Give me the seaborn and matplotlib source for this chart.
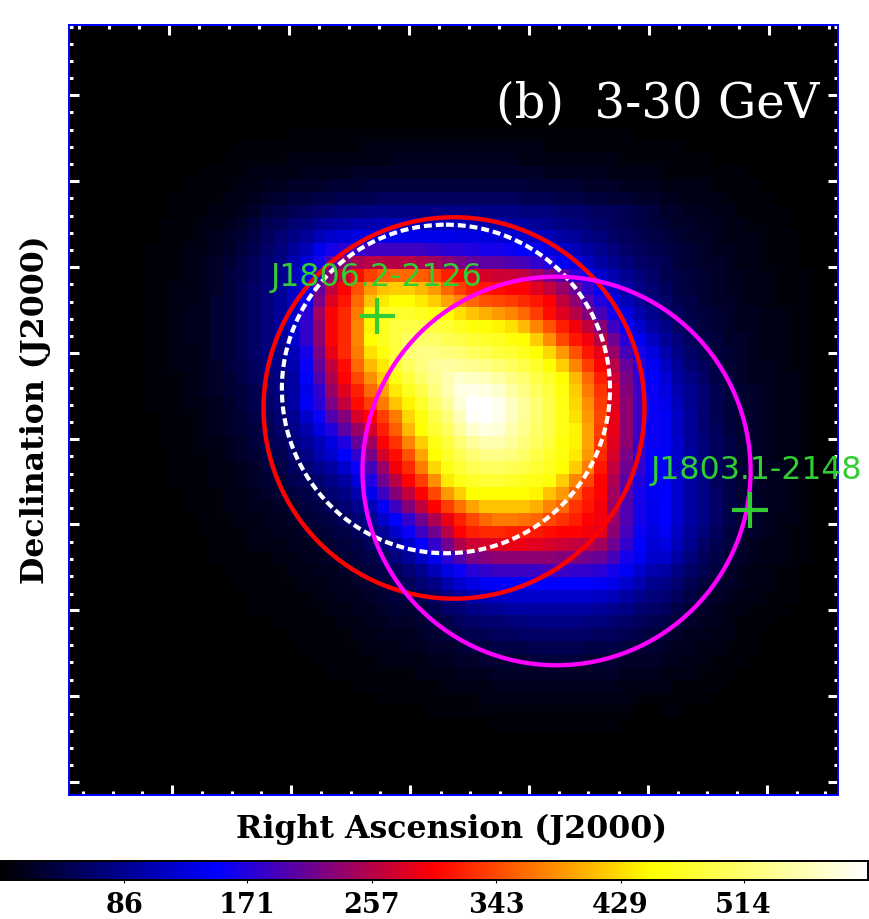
#!/usr/bin/env python3
# Fermi count map, 3-30 GeV, with source circles and the two 4FGL crosses

import numpy as np
import seaborn as sns
import matplotlib.pyplot as plt
from matplotlib.colors import LinearSegmentedColormap
from matplotlib.patches import Circle

# sky map, rows 8-54 of the 60x60 grid, in percent of the colour scale
# cols 6-14
halo_left = [
    [0,0,0,0,0,0,0,0,0],
    [0,0,0,0,0,0,0,1,1],
    [0,0,0,0,0,0,1,1,1],
    [0,0,0,0,1,1,1,1,2],
    [0,0,0,1,1,1,1,2,2],
    [0,0,1,1,1,1,2,2,3],
    [0,0,1,1,1,2,2,3,4],
    [0,1,1,1,2,2,3,4,6],
    [0,1,1,1,2,3,4,5,7],
    [1,1,1,2,2,3,4,6,8],
    [1,1,1,2,3,4,5,7,9],
    [1,1,1,2,3,4,6,7,9],
    [1,1,2,2,3,4,6,8,10],
    [1,1,2,2,3,5,6,8,10],
    [1,1,2,3,3,5,6,8,10],
    [1,1,2,3,3,5,6,8,10],
    [1,1,2,3,3,5,6,8,10],
    [1,1,2,2,3,5,6,8,10],
    [1,1,2,2,3,4,6,7,9],
    [1,1,1,2,3,4,5,7,9],
    [1,1,1,2,3,4,5,6,8],
    [1,1,1,2,2,3,4,6,8],
    [0,1,1,1,2,3,4,5,7],
    [0,1,1,1,2,3,4,5,6],
    [0,1,1,1,2,2,3,4,6],
    [0,0,1,1,1,2,3,4,5],
    [0,0,1,1,1,2,2,3,4],
    [0,0,1,1,1,2,2,3,4],
    [0,0,0,1,1,1,2,2,3],
    [0,0,0,1,1,1,2,2,3],
    [0,0,0,0,1,1,1,2,2],
    [0,0,0,0,1,1,1,1,2],
    [0,0,0,0,0,1,1,1,2],
    [0,0,0,0,0,1,1,1,1],
    [0,0,0,0,0,0,1,1,1],
    [0,0,0,0,0,0,0,1,1],
    [0,0,0,0,0,0,0,0,1],
    [0,0,0,0,0,0,0,0,1],
    [0,0,0,0,0,0,0,0,0],
    [0,0,0,0,0,0,0,0,0],
    [0,0,0,0,0,0,0,0,0],
    [0,0,0,0,0,0,0,0,0],
    [0,0,0,0,0,0,0,0,0],
    [0,0,0,0,0,0,0,0,0],
    [0,0,0,0,0,0,0,0,0],
    [0,0,0,0,0,0,0,0,0],
    [0,0,0,0,0,0,0,0,0],
]

# cols 15-45
core = [
    [0,0,1,1,1,1,1,1,1,1,1,1,1,1,1,1,1,1,1,1,1,1,1,1,1,1,1,1,1,0,0],
    [1,1,1,1,1,1,1,1,2,2,2,2,2,2,2,2,2,2,2,2,2,2,1,1,1,1,1,1,1,1,1],
    [1,1,2,2,2,2,2,2,2,2,3,3,3,3,3,3,3,3,3,3,2,2,2,2,2,2,2,2,1,1,1],
    [2,2,2,3,3,3,3,4,4,4,4,4,4,4,4,4,4,4,4,4,4,4,3,3,3,3,3,2,2,2,2],
    [3,3,4,4,4,5,5,5,6,6,6,6,6,6,6,6,6,6,6,6,6,5,5,5,5,4,4,4,3,3,3],
    [4,5,6,6,7,7,8,8,8,9,9,9,9,9,9,9,9,9,9,9,8,8,8,7,7,6,6,5,5,4,4],
    [6,7,8,9,10,11,12,12,13,13,13,13,13,13,13,13,13,13,13,13,12,12,12,11,11,10,9,9,8,7,6],
    [8,9,11,12,14,15,16,17,17,18,18,18,18,18,18,18,17,17,17,16,16,15,14,13,12,11,10,9,8,7,6],
    [9,11,13,15,18,20,21,22,22,23,23,23,23,23,23,22,22,22,21,21,20,19,18,16,15,13,12,10,9,8,7],
    [10,12,15,18,23,27,29,30,31,31,31,31,31,30,29,29,28,27,27,26,25,24,22,20,18,16,14,12,10,9,8],
    [11,13,17,21,27,33,38,42,43,43,43,43,42,41,39,37,35,34,34,33,32,30,28,25,22,19,16,14,12,10,9],
    [11,14,18,24,31,38,45,51,56,59,60,60,59,57,53,50,47,46,45,45,44,41,37,34,29,25,20,17,14,12,10],
    [12,15,19,26,35,44,50,58,65,69,70,70,68,65,60,56,53,52,51,50,50,47,44,40,35,30,25,20,16,13,11],
    [12,15,19,27,37,47,52,60,69,73,75,75,73,70,66,63,60,58,57,56,54,52,50,44,39,33,28,23,18,15,12],
    [12,15,20,29,41,50,54,62,74,78,79,79,78,76,75,72,69,67,65,63,60,56,51,47,43,38,32,27,22,17,14],
    [12,15,20,30,39,50,54,63,74,78,81,82,82,81,80,78,76,75,74,72,68,63,58,53,49,44,38,31,25,20,16],
    [12,15,20,30,39,50,54,63,75,78,81,84,85,85,83,82,80,79,78,76,75,70,64,57,52,49,43,36,29,24,19],
    [12,14,18,27,37,48,54,62,72,76,81,86,88,88,87,86,84,83,81,80,78,75,71,65,58,52,48,40,32,27,22],
    [12,14,17,26,35,44,51,60,68,73,80,84,87,90,91,90,89,88,86,84,82,79,75,70,63,56,50,43,35,29,24],
    [11,13,16,25,33,42,50,57,64,70,76,81,85,89,92,95,94,93,91,88,86,82,79,75,68,60,53,45,37,30,25],
    [11,13,16,23,30,40,47,53,60,66,73,78,82,87,92,97,98,97,95,91,88,84,81,76,70,62,55,47,38,31,26],
    [10,12,16,24,29,37,44,51,56,62,69,74,79,85,90,96,100,100,98,94,90,86,82,77,71,64,56,47,39,31,26],
    [9,11,14,20,26,33,38,46,50,56,62,71,76,82,87,93,99,100,98,94,90,86,82,77,72,65,57,48,39,31,26],
    [8,10,13,17,22,28,34,40,46,53,59,68,75,80,84,90,95,97,96,92,89,85,82,77,74,66,56,48,39,31,26],
    [8,9,12,15,18,22,28,35,41,50,55,63,70,77,81,86,90,92,92,90,87,84,81,76,74,66,55,47,39,31,26],
    [7,8,10,13,17,20,25,30,37,46,51,58,66,75,79,83,86,88,88,87,85,82,79,76,73,65,54,46,37,30,25],
    [6,7,9,11,14,16,20,26,32,40,49,54,62,71,77,80,83,84,84,83,82,80,78,75,70,62,52,44,36,30,25],
    [5,6,8,9,11,13,16,21,28,36,43,50,56,64,73,77,79,80,80,79,78,77,76,70,63,57,50,42,34,28,24],
    [4,5,6,7,9,11,13,17,23,31,38,44,50,57,65,70,75,75,75,75,75,74,69,65,59,53,50,41,33,27,24],
    [3,4,5,6,7,9,11,14,18,24,31,38,44,50,56,61,66,69,69,69,69,67,63,60,55,52,49,40,33,27,23],
    [3,3,4,5,6,7,9,11,14,20,25,30,36,42,48,53,57,60,62,62,61,60,57,55,53,50,49,40,33,27,23],
    [2,3,3,4,5,6,7,9,11,15,20,26,31,36,43,50,53,54,54,53,53,52,51,50,50,49,47,39,32,26,22],
    [2,2,3,3,4,5,6,7,9,12,15,20,25,30,36,42,45,46,47,48,48,47,46,45,44,43,41,36,30,25,21],
    [1,2,2,3,3,4,5,6,7,9,12,15,19,23,29,33,37,38,39,39,39,39,39,38,37,36,35,32,27,24,20],
    [1,1,2,2,3,3,4,5,6,7,9,11,14,18,22,26,29,30,31,31,31,31,32,31,30,30,29,27,24,20,17],
    [1,1,1,2,2,3,3,4,5,6,7,9,11,13,17,20,22,24,25,25,25,25,25,25,25,25,24,23,20,17,14],
    [1,1,1,1,2,2,3,3,4,5,6,7,8,10,13,15,17,18,19,20,20,20,20,20,20,20,19,18,16,14,12],
    [1,1,1,1,1,2,2,3,3,4,5,5,6,8,10,11,13,14,15,16,16,16,16,16,16,16,15,14,13,11,10],
    [0,1,1,1,1,1,2,2,3,3,4,4,5,6,7,9,10,11,11,12,12,13,13,13,13,12,12,11,10,9,8],
    [0,0,1,1,1,1,1,2,2,3,3,3,4,5,6,7,8,8,9,9,10,10,10,10,10,10,9,9,8,7,6],
    [0,0,0,1,1,1,1,1,2,2,2,3,3,4,4,5,6,6,7,7,7,8,8,8,8,7,7,7,6,5,5],
    [0,0,0,0,1,1,1,1,1,2,2,2,2,3,3,4,4,5,5,5,5,6,6,6,6,5,5,5,4,4,4],
    [0,0,0,0,0,1,1,1,1,1,1,1,2,2,2,3,3,3,4,4,4,4,4,4,4,4,4,4,3,3,3],
    [0,0,0,0,0,0,0,1,1,1,1,1,1,1,2,2,2,2,3,3,3,3,3,3,3,3,3,3,2,2,2],
    [0,0,0,0,0,0,0,0,0,1,1,1,1,1,1,1,1,2,2,2,2,2,2,2,2,2,2,2,2,1,1],
    [0,0,0,0,0,0,0,0,0,0,0,0,0,1,1,1,1,1,1,1,1,1,1,1,1,1,1,1,1,0,0],
    [0,0,0,0,0,0,0,0,0,0,0,0,0,0,0,0,0,0,1,1,1,1,1,1,1,1,1,1,0,0,0],
]

# cols 46-57
halo_right = [
    [0,0,0,0,0,0,0,0,0,0,0,0],
    [1,1,0,0,0,0,0,0,0,0,0,0],
    [1,1,1,1,0,0,0,0,0,0,0,0],
    [1,1,1,1,1,1,1,0,0,0,0,0],
    [2,2,2,2,1,1,1,1,0,0,0,0],
    [3,3,2,2,2,1,1,1,1,0,0,0],
    [4,4,3,3,2,2,1,1,1,1,0,0],
    [5,4,4,3,3,2,2,1,1,1,0,0],
    [6,5,4,4,3,2,2,2,1,1,1,0],
    [7,6,5,4,3,3,2,2,1,1,1,0],
    [8,6,5,4,4,3,2,2,1,1,1,0],
    [8,7,6,5,4,3,3,2,2,1,1,1],
    [9,7,6,5,4,3,3,2,2,1,1,1],
    [10,8,7,5,4,4,3,2,2,1,1,1],
    [11,9,7,6,5,4,3,3,2,2,1,1],
    [13,10,8,6,5,4,3,3,2,2,1,1],
    [15,12,9,7,6,4,4,3,2,2,1,1],
    [17,13,10,8,6,5,4,3,2,2,1,1],
    [19,15,11,9,7,5,4,3,3,2,1,1],
    [21,16,13,10,7,6,4,3,3,2,2,1],
    [22,17,14,11,8,6,5,4,3,2,2,1],
    [23,18,14,11,8,6,5,4,3,2,2,1],
    [24,19,15,11,8,6,5,4,3,2,2,1],
    [24,19,15,11,9,6,5,4,3,2,2,1],
    [24,20,15,12,9,7,5,4,3,2,2,1],
    [24,20,16,12,9,7,5,4,3,2,2,1],
    [24,20,16,12,9,7,5,4,3,3,2,1],
    [25,20,16,13,9,7,5,4,3,3,2,1],
    [25,20,16,13,10,7,5,4,3,3,2,1],
    [25,20,16,13,10,7,6,4,3,3,2,1],
    [25,20,16,13,10,7,5,4,3,2,2,1],
    [24,19,15,12,9,6,5,4,3,2,1,1],
    [22,18,14,10,8,6,4,3,2,2,1,1],
    [20,16,12,9,7,5,4,3,2,2,1,1],
    [16,13,10,8,6,4,3,2,2,1,1,0],
    [13,11,8,6,5,4,3,2,2,1,1,0],
    [11,9,7,5,4,3,2,2,1,1,1,0],
    [9,7,5,4,3,2,2,1,1,1,0,0],
    [7,6,4,3,3,2,1,1,1,0,0,0],
    [5,4,3,3,2,2,1,1,0,0,0,0],
    [4,3,3,2,2,1,1,1,0,0,0,0],
    [3,3,2,2,1,1,1,0,0,0,0,0],
    [2,2,2,1,1,1,0,0,0,0,0,0],
    [2,1,1,1,1,0,0,0,0,0,0,0],
    [1,1,1,1,0,0,0,0,0,0,0,0],
    [1,1,0,0,0,0,0,0,0,0,0,0],
    [0,0,0,0,0,0,0,0,0,0,0,0],
]

source_names = ["J1806.2-2126", "J1803.1-2148"]
source_x = [24.03, 53.13]
source_y = [22.68, 37.80]

# cx, cy, r in map cells
circle_red = [30.04, 29.84, 14.86]
circle_white = [29.41, 28.36, 12.80]
circle_magenta = [38.04, 34.75, 15.14]

cbar_ticks = [86, 171, 257, 343, 429, 514]

ra_major = [8.04, 17.36, 26.64, 35.90, 45.20, 54.45]
ra_minor = [1.09, 3.43, 5.70, 10.38, 12.70, 15.00, 19.70, 22.00, 24.30, 29.00, 31.30, 33.60,
            38.20, 40.50, 42.90, 47.50, 49.80, 52.10, 56.80, 59.00]
ra_top_major = [7.84, 17.19, 26.55, 35.90, 45.26, 54.62]
ra_top_minor = [0.78, 3.12, 5.48, 10.18, 12.52, 14.85, 19.53, 21.87, 24.21, 28.89, 31.23, 33.57,
                38.24, 40.58, 42.92, 47.60, 49.94, 52.28, 56.96, 59.30]
dec_major = [5.48, 12.18, 18.88, 25.56, 32.25, 38.92, 45.60, 52.30, 59.00]
dec_minor = [0.16, 1.50, 2.80, 4.15, 6.80, 8.15, 9.50, 10.85, 13.50, 14.85, 16.20, 17.55,
             20.20, 21.55, 22.90, 24.25, 26.90, 28.25, 29.60, 30.95, 33.60, 34.95, 36.25, 37.60,
             40.25, 41.60, 42.95, 44.30, 46.95, 48.30, 49.65, 51.00, 53.65, 55.00, 56.30, 57.65]

plt.rcParams['font.family'] = 'DejaVu Serif'

counts = np.zeros((60, 60))
counts[8:55, 6:58] = np.hstack([np.array(halo_left), np.array(core), np.array(halo_right)]) * 6.0

fire = LinearSegmentedColormap.from_list("fire", ["#000000", "#0000ff", "#ff0000", "#ffff00", "#ffffff"], N=512)

W, H = 869, 919
fig = plt.figure(figsize=(W / 100, H / 100), dpi=100)
ax = fig.add_axes([69 / W, 1 - 795 / H, 769 / W, 770 / H])
cax = fig.add_axes([0, 1 - 880 / H, 868 / W, 19 / H])

sns.heatmap(counts, ax=ax, cmap=fire, vmin=0, vmax=600, square=False, linewidths=0,
            xticklabels=False, yticklabels=False, cbar_ax=cax,
            cbar_kws={"orientation": "horizontal"})

for spine in ax.spines.values():
    spine.set_visible(True)
    spine.set_color("#0000ff")
    spine.set_linewidth(1.4)

ax.set_xticks(ra_major)
ax.set_xticks(ra_minor, minor=True)
ax.set_yticks(dec_major)
ax.set_yticks(dec_minor, minor=True)
ax.tick_params(which="major", direction="in", length=7.5, width=2.2, color="white",
               right=True, labelbottom=False, labelleft=False)
ax.tick_params(which="minor", direction="in", length=3.2, width=2.2, color="white", right=True)

# the top edge runs slightly off the bottom one, so it gets its own ticks
top = ax.secondary_xaxis("top")
top.set_zorder(5)
top.set_xticks(ra_top_major)
top.set_xticks(ra_top_minor, minor=True)
top.tick_params(which="major", direction="in", length=7.5, width=2.2, color="white", labeltop=False)
top.tick_params(which="minor", direction="in", length=3.2, width=2.2, color="white")
top.spines["top"].set_color("#0000ff")
top.spines["top"].set_linewidth(1.4)

ax.add_patch(Circle(circle_red[:2], circle_red[2], fill=False, ec="#ff0000", lw=3.2))
ax.add_patch(Circle(circle_white[:2], circle_white[2], fill=False, ec="white", lw=3.0,
                    ls=(0, (1.9, 0.95))))
ax.add_patch(Circle(circle_magenta[:2], circle_magenta[2], fill=False, ec="#ff00ff", lw=3.1))

ax.plot(source_x, source_y, ls="none", marker="+", ms=26, mew=3, color="#32cd32")
ax.text(source_x[0], source_y[0] - 3.0, source_names[0], color="#32cd32", fontsize=22.8,
        family="DejaVu Sans", ha="center", va="center")
ax.text(source_x[1] + 0.5, source_y[1] - 3.1, source_names[1], color="#32cd32", fontsize=22.8,
        family="DejaVu Sans", ha="center", va="center")

ax.text((819 - 69) / 769, 1 - (117 - 25) / 770, "(b)  3-30 GeV", color="white",
        fontsize=34.6, ha="right", va="baseline", transform=ax.transAxes)

fig.text(452 / W, 1 - 829 / H, "Right Ascension (J2000)", fontsize=22.8, fontweight="bold",
         ha="center", va="center")
fig.text(35 / W, 1 - 410 / H, "Declination (J2000)", fontsize=22.8, fontweight="bold",
         rotation=90, ha="center", va="center")

cax.set_xticks(cbar_ticks)
cax.set_xticklabels([str(t) for t in cbar_ticks], fontsize=19.5, fontweight="bold")
cax.tick_params(axis="x", length=2.5, width=0.8, pad=6, color="black")
cax.minorticks_off()
for spine in cax.spines.values():
    spine.set_visible(True)
    spine.set_color("black")
    spine.set_linewidth(1.2)

fig.savefig("out.png", dpi=100)
plt.close(fig)
print("saved out.png")
